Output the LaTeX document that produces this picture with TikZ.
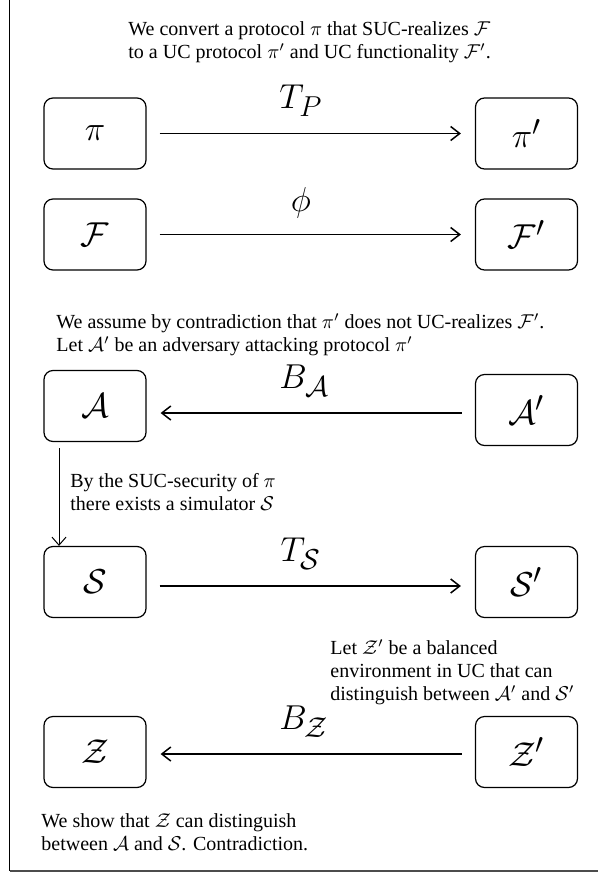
\documentclass[tikz,border=0pt]{standalone}
\usepackage{amsmath}
\usepackage{amssymb}
\usepackage{fontspec}
\setmainfont{Liberation Serif}
\usepackage{tikz}
\usetikzlibrary{calc}
\usetikzlibrary{arrows.meta}

\begin{document}
\begin{tikzpicture}[x=0.5pt, y=-0.5pt,
  box/.style={draw, rounded corners=4.5pt, line width=0.6pt, minimum width=51pt, minimum height=35.5pt, inner sep=0pt, font=\fontsize{19}{22}\selectfont},
  arr/.style={-{Straight Barb[length=4.5pt,width=7pt]}, line width=0.75pt, shorten >=7pt, shorten <=6.5pt},
  lbl/.style={above=8pt, inner sep=0pt, font=\fontsize{19}{22}\selectfont},
  txt/.style={align=left, anchor=north west, inner sep=0pt, font=\fontsize{10}{11.5}\selectfont}]
\useasboundingbox (0,0) rectangle (598,873);
\draw [line width=0.8pt] (9.5,0) -- (9.5,871);
\draw [line width=1pt, black!70] (9.5,871) -- (598,871);

\node [txt] (conv) at (128, 21) {We convert a protocol $\pi$ that SUC-realizes $\mathcal{F}$\\to a UC protocol $\pi'$ and UC functionality $\mathcal{F}'$.};

\node [box] (pi) at (95, 133.5) {$\pi$};
\node [box] (pip) at (526.5, 133.5) {$\pi'$};
\node [box] (F) at (95, 234.5) {$\mathcal{F}$};
\node [box] (Fp) at (526.5, 234.5) {$\mathcal{F}'$};
\draw [arr] (pi.east) -- (pip.west) node [lbl, pos=0.47] {$T_P$};
\draw [arr] (F.east) -- (Fp.west) node [lbl, pos=0.47] {$\phi$};

\node [txt] (assume) at (56, 313) {We assume by contradiction that $\pi'$ does not UC-realizes $\mathcal{F}'$.\\Let $\mathcal{A}'$ be an adversary attacking protocol $\pi'$};

\node [box] (A) at (95, 406) {$\mathcal{A}$};
\node [box] (Ap) at (526.5, 410) {$\mathcal{A}'$};
\draw [arr] ([yshift=-1.5pt]Ap.west) -- ([yshift=-3.5pt]A.east) node [lbl, pos=0.52] {$B_{\mathcal{A}}$};

\node [txt] (suc) at (70, 473) {By the SUC-security of $\pi$\\there exists a simulator $\mathcal{S}$};

\node [box] (S) at (95, 582) {$\mathcal{S}$};
\node [box] (Sp) at (526.5, 582) {$\mathcal{S}'$};
\draw [arr] ([yshift=-2pt]S.east) -- ([yshift=-2pt]Sp.west) node [lbl, pos=0.47] {$T_{\mathcal{S}}$};
\draw [-{Straight Barb[length=4pt,width=7pt]}, line width=0.5pt, shorten <=3pt] ([xshift=-18pt]A.south) -- ([xshift=-18pt]S.north);

\node [txt] (env) at (330, 639) {Let $\mathcal{Z}'$ be a balanced\\environment in UC that can\\distinguish between $\mathcal{A}'$ and $\mathcal{S}'$};

\node [box] (Z) at (95, 752) {$\mathcal{Z}$};
\node [box] (Zp) at (526.5, 752) {$\mathcal{Z}'$};
\draw [arr] ([yshift=-1pt]Zp.west) -- ([yshift=-1pt]Z.east) node [lbl, pos=0.52] {$B_{\mathcal{Z}}$};

\node [txt] (show) at (41, 813) {We show that $\mathcal{Z}$ can distinguish\\between $\mathcal{A}$ and $\mathcal{S}$. Contradiction.};
\end{tikzpicture}
\end{document}
